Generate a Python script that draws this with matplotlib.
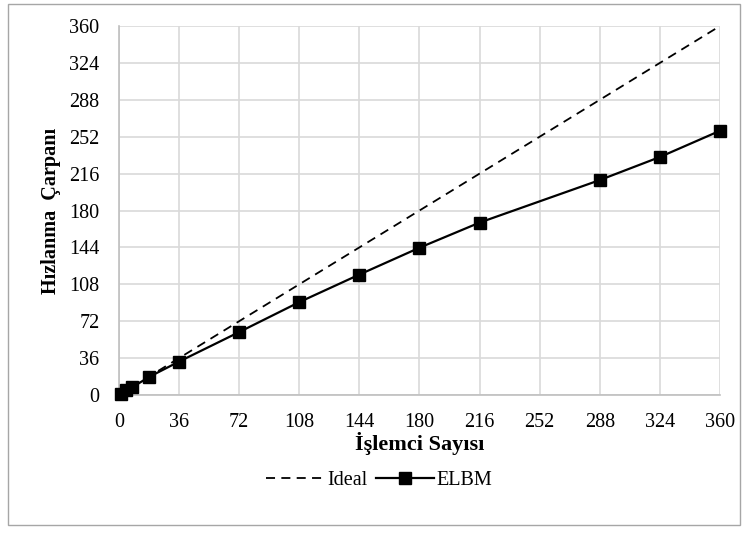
import numpy as np
import matplotlib.pyplot as plt
from matplotlib.patches import Rectangle

plt.rcParams['font.family'] = ['Liberation Serif', 'DejaVu Serif']

# data
procs = [1, 4, 8, 18, 36, 72, 108, 144, 180, 216, 288, 324, 360]
speedup = [1, 4.5, 7.5, 17.6, 32.6, 61.4, 90.6, 117.5, 143.7, 168.2, 209.7, 232.2, 257.8]
ideal_x = [0, 360]
ideal_y = [0, 360]
ticks = np.arange(0, 361, 36)

fig = plt.figure(figsize=(7.48, 5.37), dpi=100)
ax = fig.add_axes([0.159, 0.2644, 0.8036, 0.6872])

ax.plot(ideal_x, ideal_y, color='black', lw=1.3, ls=(0, (5, 3.5)), label='Ideal')
ax.plot(procs, speedup, color='black', lw=1.6, marker='s', ms=8, label='ELBM',
        clip_on=False, zorder=5)

ax.set_xlim(0, 360)
ax.set_ylim(0, 360)
ax.set_xticks(ticks)
ax.set_yticks(ticks)
ax.grid(True, color='#d9d9d9', lw=1.2)
ax.set_axisbelow(True)
for s in ['top', 'right']:
    ax.spines[s].set_visible(False)
for s in ['left', 'bottom']:
    ax.spines[s].set_color('#bfbfbf')
    ax.spines[s].set_linewidth(1.2)
ax.tick_params(length=0, labelsize=14.5)
ax.tick_params(axis='x', pad=13)
ax.tick_params(axis='y', pad=14)
ax.set_xlabel('İşlemci Sayısı', fontsize=16, fontweight='bold', labelpad=0)
ax.set_ylabel('Hızlanma  Çarpanı', fontsize=14.5, fontweight='bold', labelpad=6)

leg = fig.legend(loc='center', bbox_to_anchor=(0.507, 0.105), ncol=2, frameon=False,
                 fontsize=14.5, handlelength=2.9, columnspacing=0.4, handletextpad=0.15)

# outer border like the chart area
fig.patches.append(Rectangle((0.011, 0.022), 0.978, 0.97, transform=fig.transFigure,
                             fill=False, edgecolor='#a6a6a6', lw=1))

fig.savefig('out.png', dpi=100)
